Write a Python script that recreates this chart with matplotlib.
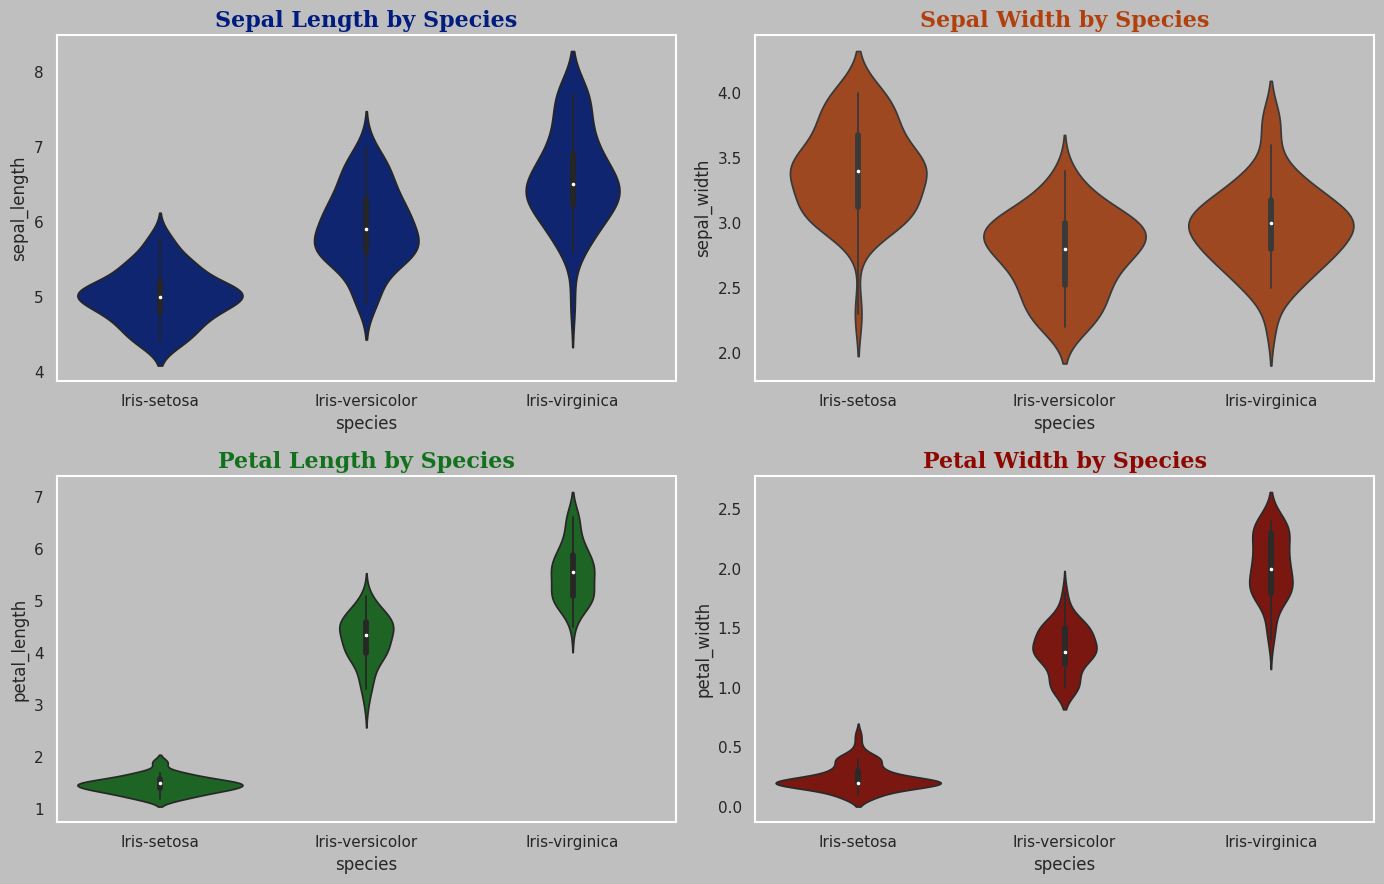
import numpy as np
import pandas as pd
import matplotlib
matplotlib.use("Agg")
import matplotlib.pyplot as plt
import seaborn as sns

species_names = ["Iris-setosa", "Iris-versicolor", "Iris-virginica"]

# Per-feature values as shown in each panel (extremes clipped to the 2%-98% range, as in the reference)
setosa_sepal_length = [5.1,4.9,4.7,4.6,5.0,5.4,4.6,5.0,4.4,4.9,5.4,4.8,4.8,4.4,5.8,5.7,5.4,5.1,5.7,5.1,5.4,5.1,4.6,5.1,4.8,5.0,5.0,5.2,5.2,4.7,4.8,5.4,5.2,5.5,4.9,5.0,5.5,4.9,4.4,5.1,5.0,4.5,4.4,5.0,5.1,4.8,5.1,4.6,5.3,5.0]
versicolor_sepal_length = [7.0,6.4,6.9,5.5,6.5,5.7,6.3,4.9,6.6,5.2,5.0,5.9,6.0,6.1,5.6,6.7,5.6,5.8,6.2,5.6,5.9,6.1,6.3,6.1,6.4,6.6,6.8,6.7,6.0,5.7,5.5,5.5,5.8,6.0,5.4,6.0,6.7,6.3,5.6,5.5,5.5,6.1,5.8,5.0,5.6,5.7,5.7,6.2,5.1,5.7]
virginica_sepal_length = [6.3,5.8,7.1,6.3,6.5,7.6,4.9,7.3,6.7,7.2,6.5,6.4,6.8,5.7,5.8,6.4,6.5,7.7,7.7,6.0,6.9,5.6,7.7,6.3,6.7,7.2,6.2,6.1,6.4,7.2,7.4,7.7,6.4,6.3,6.1,7.7,6.3,6.4,6.0,6.9,6.7,6.9,5.8,6.8,6.7,6.7,6.3,6.5,6.2,5.9]

setosa_sepal_width = [3.5,3.0,3.2,3.1,3.6,3.9,3.4,3.4,2.9,3.1,3.7,3.4,3.0,3.0,4.0,4.002,3.9,3.5,3.8,3.8,3.4,3.7,3.6,3.3,3.4,3.0,3.4,3.5,3.4,3.2,3.1,3.4,4.002,4.002,3.1,3.2,3.5,3.1,3.0,3.4,3.5,2.3,3.2,3.5,3.8,3.0,3.8,3.2,3.7,3.3]
versicolor_sepal_width = [3.2,3.2,3.1,2.3,2.8,2.8,3.3,2.4,2.9,2.7,2.2,3.0,2.2,2.9,2.9,3.1,3.0,2.7,2.2,2.5,3.2,2.8,2.5,2.8,2.9,3.0,2.8,3.0,2.9,2.6,2.4,2.4,2.7,2.7,3.0,3.4,3.1,2.3,3.0,2.5,2.6,3.0,2.6,2.3,2.7,3.0,2.9,2.9,2.5,2.8]
virginica_sepal_width = [3.3,2.7,3.0,2.9,3.0,3.0,2.5,2.9,2.5,3.6,3.2,2.7,3.0,2.5,2.8,3.2,3.0,3.8,2.6,2.2,3.2,2.8,2.8,2.7,3.3,3.2,2.8,3.0,2.8,3.0,2.8,3.8,2.8,2.8,2.6,3.0,3.4,3.1,3.0,3.1,3.1,3.1,2.7,3.2,3.3,3.0,2.5,3.0,3.4,3.0]

setosa_petal_length = [1.4,1.4,1.3,1.5,1.4,1.7,1.4,1.5,1.4,1.5,1.5,1.6,1.4,1.2,1.2,1.5,1.3,1.4,1.7,1.5,1.7,1.5,1.2,1.7,1.9,1.6,1.6,1.5,1.4,1.6,1.6,1.5,1.5,1.4,1.5,1.2,1.3,1.5,1.3,1.5,1.3,1.3,1.3,1.6,1.9,1.4,1.6,1.4,1.5,1.4]
versicolor_petal_length = [4.7,4.5,4.9,4.0,4.6,4.5,4.7,3.3,4.6,3.9,3.5,4.2,4.0,4.7,3.6,4.4,4.5,4.1,4.5,3.9,4.8,4.0,4.9,4.7,4.3,4.4,4.8,5.0,4.5,3.5,3.8,3.7,3.9,5.1,4.5,4.5,4.7,4.4,4.1,4.0,4.4,4.6,4.0,3.3,4.2,4.2,4.2,4.3,3.0,4.1]
virginica_petal_length = [6.0,5.1,5.9,5.6,5.8,6.6,4.5,6.3,5.8,6.1,5.1,5.3,5.5,5.0,5.1,5.3,5.5,6.602,6.602,5.0,5.7,4.9,6.602,4.9,5.7,6.0,4.8,4.9,5.6,5.8,6.1,6.4,5.6,5.1,5.6,6.1,5.6,5.5,4.8,5.4,5.6,5.1,5.1,5.9,5.7,5.2,5.0,5.2,5.4,5.1]

setosa_petal_width = [0.2,0.2,0.2,0.2,0.2,0.4,0.3,0.2,0.2,0.1,0.2,0.2,0.1,0.1,0.2,0.4,0.4,0.3,0.3,0.3,0.2,0.4,0.2,0.5,0.2,0.2,0.4,0.2,0.2,0.2,0.2,0.4,0.1,0.2,0.1,0.2,0.2,0.1,0.2,0.2,0.3,0.3,0.2,0.6,0.4,0.3,0.2,0.2,0.2,0.2]
versicolor_petal_width = [1.4,1.5,1.5,1.3,1.5,1.3,1.6,1.0,1.3,1.4,1.0,1.5,1.0,1.4,1.3,1.4,1.5,1.0,1.5,1.1,1.8,1.3,1.5,1.2,1.3,1.4,1.4,1.7,1.5,1.0,1.1,1.0,1.2,1.6,1.5,1.6,1.5,1.3,1.3,1.3,1.2,1.4,1.2,1.0,1.3,1.2,1.3,1.3,1.1,1.3]
virginica_petal_width = [2.402,1.9,2.1,1.8,2.2,2.1,1.7,1.8,1.8,2.402,2.0,1.9,2.1,2.0,2.4,2.3,1.8,2.2,2.3,1.5,2.3,2.0,2.0,1.8,2.1,1.8,1.8,1.8,2.1,1.6,1.9,2.0,2.2,1.5,1.4,2.3,2.4,1.8,1.8,2.1,2.4,2.3,1.9,2.3,2.402,2.3,1.9,2.0,2.3,1.8]

features = ["sepal_length", "sepal_width", "petal_length", "petal_width"]
titles = ["Sepal Length by Species", "Sepal Width by Species",
          "Petal Length by Species", "Petal Width by Species"]

feature_values = {
    "sepal_length": [setosa_sepal_length, versicolor_sepal_length, virginica_sepal_length],
    "sepal_width": [setosa_sepal_width, versicolor_sepal_width, virginica_sepal_width],
    "petal_length": [setosa_petal_length, versicolor_petal_length, virginica_petal_length],
    "petal_width": [setosa_petal_width, versicolor_petal_width, virginica_petal_width],
}

sns.set_theme(style="white")
plt.rcParams.update({
    "figure.facecolor": "#bfbfbf",
    "axes.facecolor": "#bfbfbf",
    "axes.edgecolor": "white",
    "axes.linewidth": 1.5,
    "savefig.facecolor": "#bfbfbf",
})
plt.rcParams["font.family"] = ["DejaVu Sans"]

colors = sns.color_palette("dark", 4)

fig, axes = plt.subplots(2, 2, figsize=(13.84, 8.84), dpi=100)
for ax, feat, title, col in zip(axes.flat, features, titles, colors):
    vals = feature_values[feat]
    sub = pd.DataFrame({
        "species": [sp for sp, v in zip(species_names, vals) for _ in v],
        feat: [x for v in vals for x in v],
    })
    sns.violinplot(data=sub, x="species", y=feat, color=col, ax=ax, inner="box",
                   order=species_names,
                   inner_kws=dict(marker=".", box_width=4.2, whis_width=1.3))
    ax.set_title(title, fontsize=16, fontweight="bold", color=col, family="DejaVu Serif")
    for s in ax.spines.values():
        s.set_color("white")

plt.tight_layout(pad=0.6, h_pad=1.08, w_pad=1.08)
fig.savefig("out.png", dpi=100)
